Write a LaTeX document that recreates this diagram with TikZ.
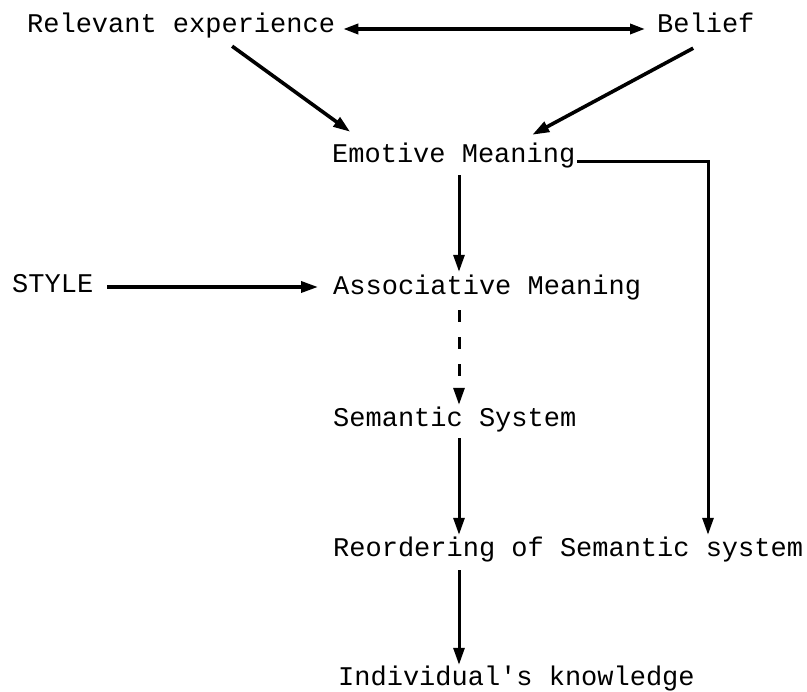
\documentclass[tikz,border=0pt]{standalone}
\usepackage{fontspec}
\setmonofont{Liberation Mono}
\usetikzlibrary{arrows.meta}
\begin{document}
\begin{tikzpicture}[x=1pt,y=-1pt,
  lbl/.style={anchor=base west,inner sep=0pt,text height=20pt,text depth=6pt,
    font=\ttfamily\fontsize{27}{27}\selectfont},
  arr/.style={line width=3pt,-{Triangle[length=17pt,width=11pt]}},
  thk/.style={line width=3.6pt},
  darr/.style={line width=3.4pt,{Triangle[length=15pt,width=10pt]}-{Triangle[length=15pt,width=10pt]}},
  dsh/.style={dash pattern=on 12pt off 15pt}]
\useasboundingbox (0,0) rectangle (807,692);
\coordinate (spine) at (459,0);
\coordinate (rside) at (708,0);
\node[lbl] (rel)  at (27,33)  {Relevant experience};
\node[lbl] (bel)  at (657,33) {Belief};
\node[lbl] (emo)  at (332,163) {Emotive Meaning};
\node[lbl] (sty)  at (12,293) {STYLE};
\node[lbl] (asso) at (333,295) {Associative Meaning};
\node[lbl] (sem)  at (333,427) {Semantic System};
\node[lbl] (reo)  at (333,557) {Reordering of Semantic system};
\node[lbl] (ind)  at (338,686) {Individual's knowledge};
% top double arrow
\draw[darr] ([shift={(8,3)}]rel.east) -- ([shift={(-12,3)}]bel.west);
% diagonals
\draw[arr,thk] ([shift={(51,7)}]rel.south) -- ([shift={(-103.5,-11)}]emo.north);
\draw[arr,thk] ([shift={(-12.6,9)}]bel.south) -- ([shift={(78.5,-8)}]emo.north);
% emotive to reordering (right side)
\draw[arr,shorten >=2pt] ([shift={(2,6)}]emo.east) -| (reo.north -| rside);
% spine
\draw[arr,shorten <=6pt,shorten >=3pt] (emo.south -| spine) -- (asso.north -| spine);
\draw[arr,dsh,shorten <=9pt,shorten >=2pt] (asso.south -| spine) -- (sem.north -| spine);
\draw[arr,shorten <=5pt,shorten >=2pt] (sem.south -| spine) -- (reo.north -| spine);
\draw[arr,shorten <=7pt,shorten >=1pt] (reo.south -| spine) -- (ind.north -| spine);
% style
\draw[arr,line width=3.4pt] ([shift={(14,1)}]sty.east) -- ([shift={(-15,-1)}]asso.west);
\end{tikzpicture}
\end{document}
